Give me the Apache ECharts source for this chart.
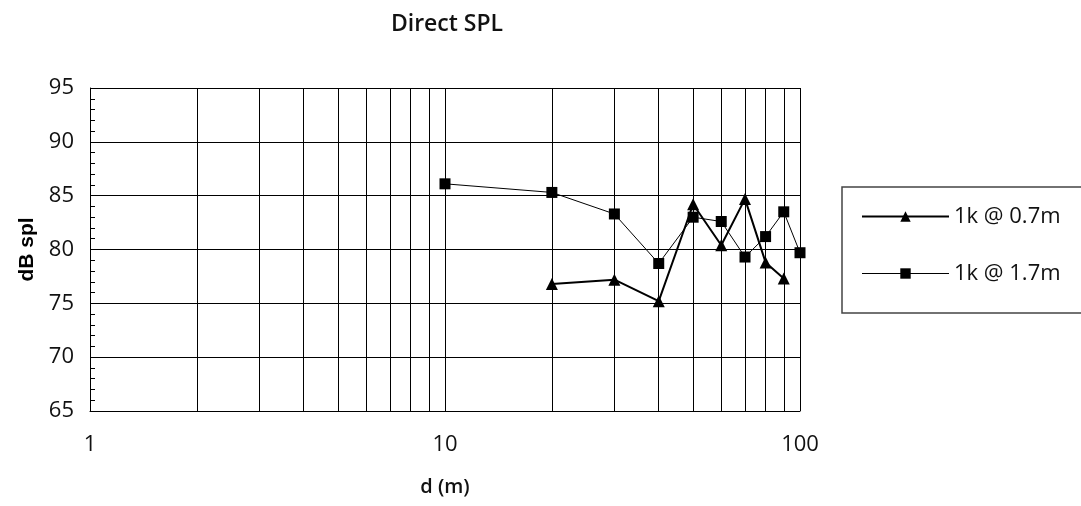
<!DOCTYPE html>
<html>
<head>
<meta charset="utf-8">
<style>
  html, body { margin: 0; padding: 0; background: #fff; }
  #chart { width: 1081px; height: 506px; }
</style>
<script src="https://cdn.jsdelivr.net/npm/echarts@6/dist/echarts.min.js"></script>
</head>
<body>
<div id="chart"></div>
<script>
// Distance (m) and measured direct SPL (dB) for the two mic heights
const dist07 = [20, 30, 40, 50, 60, 70, 80, 90];
const spl07  = [76.8, 77.2, 75.2, 84.2, 80.4, 84.7, 78.8, 77.3];

const dist17 = [10, 20, 30, 40, 50, 60, 70, 80, 90, 100];
const spl17  = [86.1, 85.3, 83.3, 78.7, 83.0, 82.6, 79.3, 81.2, 83.5, 79.7];

// Intermediate decade gridlines on the log distance axis
const minorGridX = [2, 3, 4, 5, 6, 7, 8, 9, 20, 30, 40, 50, 60, 70, 80, 90];

const seriesNames = ['1k @ 0.7m', '1k @ 1.7m'];
const seriesLineWidths = [2, 1];

const pairs = (xs, ys) => xs.map((x, i) => [x, ys[i]]);

const labelFont = '"Open Sans", "Liberation Sans", sans-serif';

const chart = echarts.init(document.getElementById('chart'), null, { renderer: 'canvas' });

chart.setOption({
  animation: false,
  backgroundColor: '#fff',
  title: {
    text: 'Direct SPL',
    left: 442,
    top: 8,
    textAlign: 'center',
    textStyle: { fontFamily: '"Open Sans", sans-serif', fontSize: 23, fontWeight: 600, color: '#111' }
  },
  grid: { left: 90, right: 281, top: 88, bottom: 95 },
  legend: {
    data: seriesNames.map((n, i) => ({ name: n, lineStyle: { width: seriesLineWidths[i], color: '#000' } })),
    orient: 'vertical',
    left: 842,
    top: 187,
    itemWidth: 87,
    itemHeight: 13,
    itemGap: 34,
    padding: [18, 60, 28, 19],
    borderColor: '#444',
    borderWidth: 1.5,
    textStyle: { fontFamily: labelFont, fontSize: 22, color: '#111', lineHeight: 23 }
  },
  xAxis: {
    type: 'log',
    logBase: 10,
    min: 1,
    max: 100,
    name: 'd (m)',
    nameLocation: 'middle',
    nameGap: 66,
    nameTextStyle: { fontFamily: '"Open Sans", sans-serif', fontSize: 20, fontWeight: 600, color: '#111' },
    axisLine: { show: true, lineStyle: { color: '#000', width: 1 } },
    axisTick: { show: false },
    axisLabel: { margin: 23, fontFamily: labelFont, fontSize: 22, color: '#111' },
    splitLine: { show: true, lineStyle: { color: '#000', width: 1 } }
  },
  yAxis: {
    type: 'value',
    min: 65,
    max: 95,
    interval: 5,
    name: 'dB spl',
    nameLocation: 'middle',
    nameGap: 52,
    nameRotate: 90,
    nameTextStyle: { fontFamily: '"Liberation Sans", Arial, sans-serif', fontSize: 21, fontWeight: 'bold', color: '#000' },
    axisLine: { show: true, lineStyle: { color: '#000', width: 1 } },
    axisTick: { show: true, inside: true, length: 5, lineStyle: { color: '#000' } },
    minorTick: { show: true, splitNumber: 5, length: 5, lineStyle: { color: '#000', width: 1 } },
    axisLabel: { margin: 16, fontFamily: labelFont, fontSize: 22, color: '#111' },
    splitLine: { show: true, lineStyle: { color: '#000', width: 1 } }
  },
  series: [
    {
      name: 'gridlines',
      type: 'line',
      data: [],
      silent: true,
      z: 1,
      markLine: {
        silent: true,
        symbol: ['none', 'none'],
        label: { show: false },
        lineStyle: { color: '#000', width: 1, type: 'solid' },
        data: minorGridX.map(v => ({ xAxis: v }))
      }
    },
    {
      name: seriesNames[0],
      type: 'line',
      data: pairs(dist07, spl07),
      symbol: 'triangle',
      symbolSize: 12,
      z: 3,
      color: '#000',
      lineStyle: { color: '#000', width: seriesLineWidths[0] },
      itemStyle: { color: '#000' }
    },
    {
      name: seriesNames[1],
      type: 'line',
      data: pairs(dist17, spl17),
      symbol: 'rect',
      symbolSize: 11,
      z: 4,
      color: '#000',
      lineStyle: { color: '#000', width: seriesLineWidths[1] },
      itemStyle: { color: '#000' }
    }
  ]
});
</script>
</body>
</html>
